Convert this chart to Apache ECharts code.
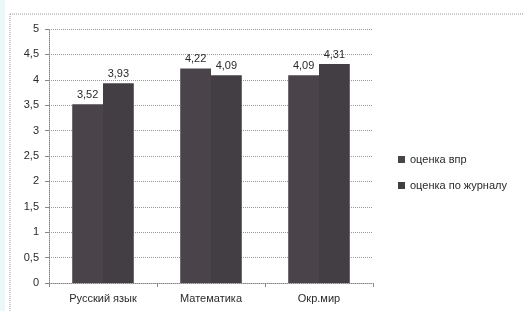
<!DOCTYPE html>
<html lang="ru">
<head>
    <meta charset="UTF-8">
    <title>ВПР</title>
    <script src="https://cdn.jsdelivr.net/npm/echarts@6/dist/echarts.min.js"></script>
    <style>
        html, body { margin: 0; padding: 0; background: #fff; }
        #chart { width: 523px; height: 311px; }
    </style>
</head>
<body>
    <div id="chart"></div>
    <script>
        // данные с картинки
        var categories = ['Русский язык', 'Математика', 'Окр.мир'];
        var seriesNames = ['оценка впр', 'оценка по журналу'];
        var vprValues = [3.52, 4.22, 4.09];
        var journalValues = [3.93, 4.09, 4.31];
        var barColors = ['#4a4349', '#433d44'];

        var comma = function (v) { return String(v).replace('.', ','); };
        var txt = { color: '#2a2a2a', fontSize: 11, fontFamily: 'Liberation Sans, Arial, sans-serif' };

        var chart = echarts.init(document.getElementById('chart'));
        chart.setOption({
            backgroundColor: '#fff',
            animation: false,
            graphic: [
                { type: 'rect', shape: { x: 0, y: 0, width: 5, height: 311 }, style: { fill: '#eaf8fa' } },
                { type: 'line', shape: { x1: 10, y1: 14, x2: 523, y2: 14 }, style: { stroke: '#999', lineDash: [1, 1], lineWidth: 1 } },
                { type: 'line', shape: { x1: 10, y1: 14, x2: 10, y2: 311 }, style: { stroke: '#999', lineDash: [1, 1], lineWidth: 1 } }
            ],
            grid: { left: 49, right: 150, top: 29, bottom: 28 },
            legend: {
                orient: 'vertical',
                left: 393,
                top: 149,
                itemWidth: 7,
                itemHeight: 7,
                itemGap: 15,
                icon: 'rect',
                textStyle: txt,
                data: seriesNames
            },
            xAxis: {
                type: 'category',
                data: categories,
                axisLine: { lineStyle: { color: '#888', type: 'dotted' } },
                axisTick: { show: true, length: 4, lineStyle: { color: '#888' } },
                axisLabel: Object.assign({ margin: 10 }, txt)
            },
            yAxis: {
                type: 'value',
                min: 0,
                max: 5,
                interval: 0.5,
                axisLine: { show: true, lineStyle: { color: '#888', type: 'dotted' } },
                axisTick: { show: true, length: 4, lineStyle: { color: '#888' } },
                splitLine: { lineStyle: { color: '#999', type: 'dotted' } },
                axisLabel: Object.assign({ margin: 10, formatter: comma }, txt)
            },
            series: [
                {
                    name: seriesNames[0],
                    type: 'bar',
                    data: vprValues,
                    barGap: '0%',
                    barCategoryGap: '43%',
                    itemStyle: { color: barColors[0] },
                    label: Object.assign({ show: true, position: 'top', distance: 4, formatter: function (p) { return comma(p.value); } }, txt)
                },
                {
                    name: seriesNames[1],
                    type: 'bar',
                    data: journalValues,
                    barGap: '0%',
                    barCategoryGap: '43%',
                    itemStyle: { color: barColors[1] },
                    label: Object.assign({ show: true, position: 'top', distance: 4, formatter: function (p) { return comma(p.value); } }, txt)
                }
            ]
        });
    </script>
</body>
</html>
